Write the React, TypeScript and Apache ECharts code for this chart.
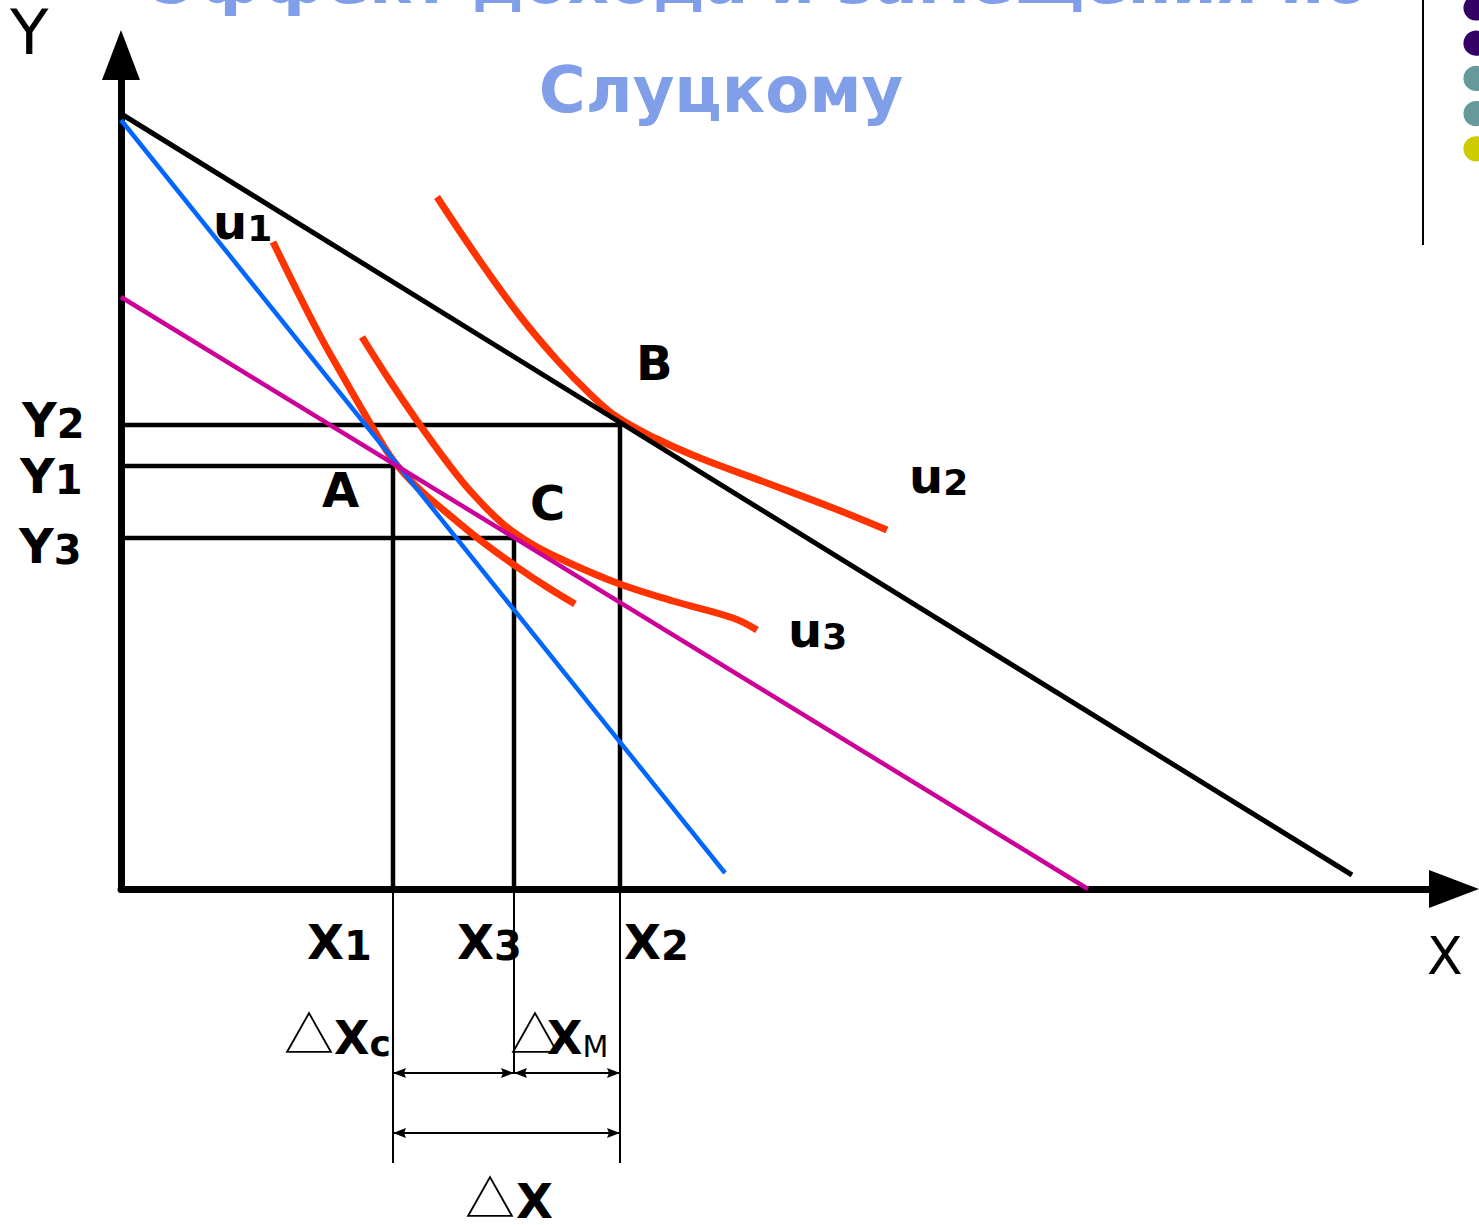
import React, { useEffect, useRef } from "react";
import * as echarts from "echarts";

// ---------- data (model units) ----------
const titleLines = ["Эффект дохода и замещения по", "Слуцкому"];

const budgetBlack = [[0.2, 77.4], [123.1, 1.4]];
const budgetBlue = [[0, 76.9], [60.4, 1.6]];
const budgetMagenta = [[0, 59.2], [96.7, 0]];

const u1Curve = [[15.2, 64.7], [19.6, 55.9], [22.4, 50.9], [24.9, 46.6], [27.2, 42.9], [29.6, 40.2], [32.6, 37.6], [35.9, 34.9], [39.6, 32.2], [42.6, 30.2], [45.4, 28.5]];
const u2Curve = [[31.6, 69.2], [35.9, 62.8], [39.9, 57.3], [43.6, 52.9], [46.9, 49.5], [49.6, 47.2], [53.6, 45.0], [57.9, 43.1], [64.6, 40.6], [71.2, 38.1], [76.6, 35.9]];
const u3Curve = [[24.1, 55.2], [26.9, 50.8], [29.9, 46.4], [32.6, 42.7], [35.2, 39.5], [38.2, 36.5], [40.9, 34.6], [44.2, 32.9], [49.6, 30.6], [55.2, 28.8], [61.2, 27.1], [63.6, 25.9]];

// equilibrium points A, C, B
const pointNames = ["A", "C", "B"];
const pointX = [27.2, 39.3, 49.9];
const pointY = [42.3, 35.1, 46.4];
const xTickLabels = ["X1", "X3", "X2"];
const yTickLabels = ["Y1", "Y3", "Y2"];
const extensionDepth = [-27.4, -18.4, -27.4];
// dimension arrows: [from x, to x, y]
const dimensionArrows = [
  [27.2, 39.3, -18.4],
  [39.3, 49.9, -18.4],
  [27.2, 49.9, -24.4],
];

const curveLabels = ["u1", "u2", "u3"];
const dotColors = ["#330066", "#330066", "#669999", "#669999", "#CCCC00"];

// ---------- styles ----------
const FONT = "'DejaVu Sans', Verdana, sans-serif";
const CJK = "'Noto Sans CJK SC', sans-serif";
const ORANGE = "#FF3300";

function richText(x: number, baseline: number, main: string, sub: string, mainSize = 48, subSize = 40, subWeight = "bold") {
  return {
    type: "text",
    x,
    y: baseline + 0.154 * mainSize,
    z: 100,
    style: {
      text: `{a|${main}}{b|${sub}}`,
      fill: "#000",
      align: "left",
      verticalAlign: "bottom",
      rich: {
        a: { fontSize: mainSize, fontWeight: "bold", fontFamily: FONT, lineHeight: mainSize, verticalAlign: "bottom", fill: "#000" },
        b: { fontSize: subSize, fontWeight: subWeight, fontFamily: FONT, lineHeight: subSize, verticalAlign: "bottom", fill: "#000" },
      },
    },
  };
}

function plainText(x: number, baseline: number, text: string, size: number, weight: string, fill = "#000", align = "left", family = FONT) {
  return {
    type: "text",
    x,
    y: baseline + 0.154 * size,
    z: 100,
    style: { text, fill, fontSize: size, fontWeight: weight, fontFamily: family, lineHeight: size, align, verticalAlign: "bottom" },
  };
}

function triangleGlyph(x: number, bottom: number) {
  return {
    type: "text",
    x,
    y: bottom,
    z: 100,
    style: { text: "△", fill: "#000", fontSize: 50, fontFamily: CJK, lineHeight: 50, align: "left", verticalAlign: "bottom" },
  };
}

const lineSeries = (data: number[][], color: string, width: number, z = 2, clip = true, smooth: number | boolean = false) => ({
  type: "line",
  data,
  symbol: "none",
  smooth,
  clip,
  silent: true,
  z,
  lineStyle: { color, width, cap: "butt" },
});

export default function App() {
  const ref = useRef<HTMLDivElement>(null);

  useEffect(() => {
    const chart = echarts.init(ref.current!, null, { renderer: "svg" });

    const series: any[] = [];
    // indifference curves
    [u1Curve, u2Curve, u3Curve].forEach((c) => series.push(lineSeries(c, ORANGE, 7, 3, true, 0.4)));
    // guide lines to the equilibrium points
    pointX.forEach((px, i) => {
      series.push(lineSeries([[0, pointY[i]], [px, pointY[i]], [px, 0]], "#000", 4.5, 2));
      series.push(lineSeries([[px, 0], [px, extensionDepth[i]]], "#000", 2, 2, false));
    });
    // budget lines
    series.push(lineSeries(budgetBlue, "#0066FF", 4.5, 4));
    series.push(lineSeries(budgetMagenta, "#CC0099", 4.5, 4));
    series.push(lineSeries(budgetBlack, "#000000", 5, 4));
    // dimension arrows
    series.push({
      type: "custom",
      coordinateSystem: "cartesian2d",
      clip: false,
      silent: true,
      z: 5,
      data: dimensionArrows,
      renderItem: (_params: any, api: any) => {
        const a = api.coord([api.value(0), api.value(2)]);
        const b = api.coord([api.value(1), api.value(2)]);
        const L = 13;
        const H = 5;
        const N = 2;
        return {
          type: "group",
          children: [
            { type: "line", shape: { x1: a[0], y1: a[1], x2: b[0], y2: b[1] }, style: { stroke: "#000", lineWidth: 2 } },
            {
              type: "polygon",
              shape: { points: [[a[0], a[1]], [a[0] + L, a[1] - H], [a[0] + L - N, a[1]], [a[0] + L, a[1] + H]] },
              style: { fill: "#000" },
            },
            {
              type: "polygon",
              shape: { points: [[b[0], b[1]], [b[0] - L, b[1] - H], [b[0] - L + N, b[1]], [b[0] - L, b[1] + H]] },
              style: { fill: "#000" },
            },
          ],
        };
      },
    });

    const graphic: any[] = [
      plainText(760, 3, titleLines[0], 64, "bold", "#819FE9", "center"),
      plainText(721, 112, titleLines[1], 64, "bold", "#819FE9", "center"),
      plainText(10, 54, "Y", 63, "normal"),
      plainText(1427, 974, "X", 52, "normal"),
      // point labels A, C, B
      plainText(322, 507, pointNames[0], 48, "bold"),
      plainText(530, 520, pointNames[1], 48, "bold"),
      plainText(636, 380, pointNames[2], 48, "bold"),
      // axis value labels
      richText(307, 959, xTickLabels[0][0], xTickLabels[0][1]),
      richText(457, 959, xTickLabels[1][0], xTickLabels[1][1]),
      richText(624, 959, xTickLabels[2][0], xTickLabels[2][1]),
      richText(20, 493, yTickLabels[0][0], yTickLabels[0][1]),
      richText(19, 563, yTickLabels[1][0], yTickLabels[1][1]),
      richText(22, 437, yTickLabels[2][0], yTickLabels[2][1]),
      // curve labels
      richText(213, 239, curveLabels[0][0], curveLabels[0][1], 48, 36),
      richText(909, 493, curveLabels[1][0], curveLabels[1][1], 48, 36),
      richText(788, 647, curveLabels[2][0], curveLabels[2][1], 48, 36),
      // delta labels
      triangleGlyph(284, 1056),
      richText(334, 1054, "X", "c", 46, 36),
      triangleGlyph(510, 1056),
      richText(547, 1054, "X", "M", 46, 30, "normal"),
      triangleGlyph(465, 1220),
      plainText(516, 1218, "X", 48, "bold"),
      // slide decoration
      { type: "line", shape: { x1: 1423, y1: 0, x2: 1423, y2: 245 }, style: { stroke: "#000", lineWidth: 2 } },
      ...dotColors.map((c, i) => ({ type: "circle", shape: { cx: 1476, cy: 8 + i * 35.2, r: 12.6 }, style: { fill: c } })),
    ];

    chart.setOption({
      animation: false,
      backgroundColor: "#ffffff",
      grid: { left: 121, right: 25, top: 55, bottom: 336, containLabel: false, outerBoundsMode: "none" },
      xAxis: {
        type: "value",
        min: 0,
        max: 133.3,
        axisLine: { show: true, onZero: true, lineStyle: { color: "#000", width: 7 }, symbol: ["none", "triangle"], symbolSize: [38, 50] },
        axisTick: { show: false },
        axisLabel: { show: false },
        splitLine: { show: false },
      },
      yAxis: {
        type: "value",
        min: 0,
        max: 83.4,
        axisLine: { show: true, onZero: true, lineStyle: { color: "#000", width: 7 }, symbol: ["none", "triangle"], symbolSize: [38, 50] },
        axisTick: { show: false },
        axisLabel: { show: false },
        splitLine: { show: false },
      },
      series,
      graphic,
    });

    return () => chart.dispose();
  }, []);

  return (
    <div
      ref={ref}
      style={{ position: "fixed", left: 0, top: 0, width: 1479, height: 1225, background: "#fff" }}
    />
  );
}
